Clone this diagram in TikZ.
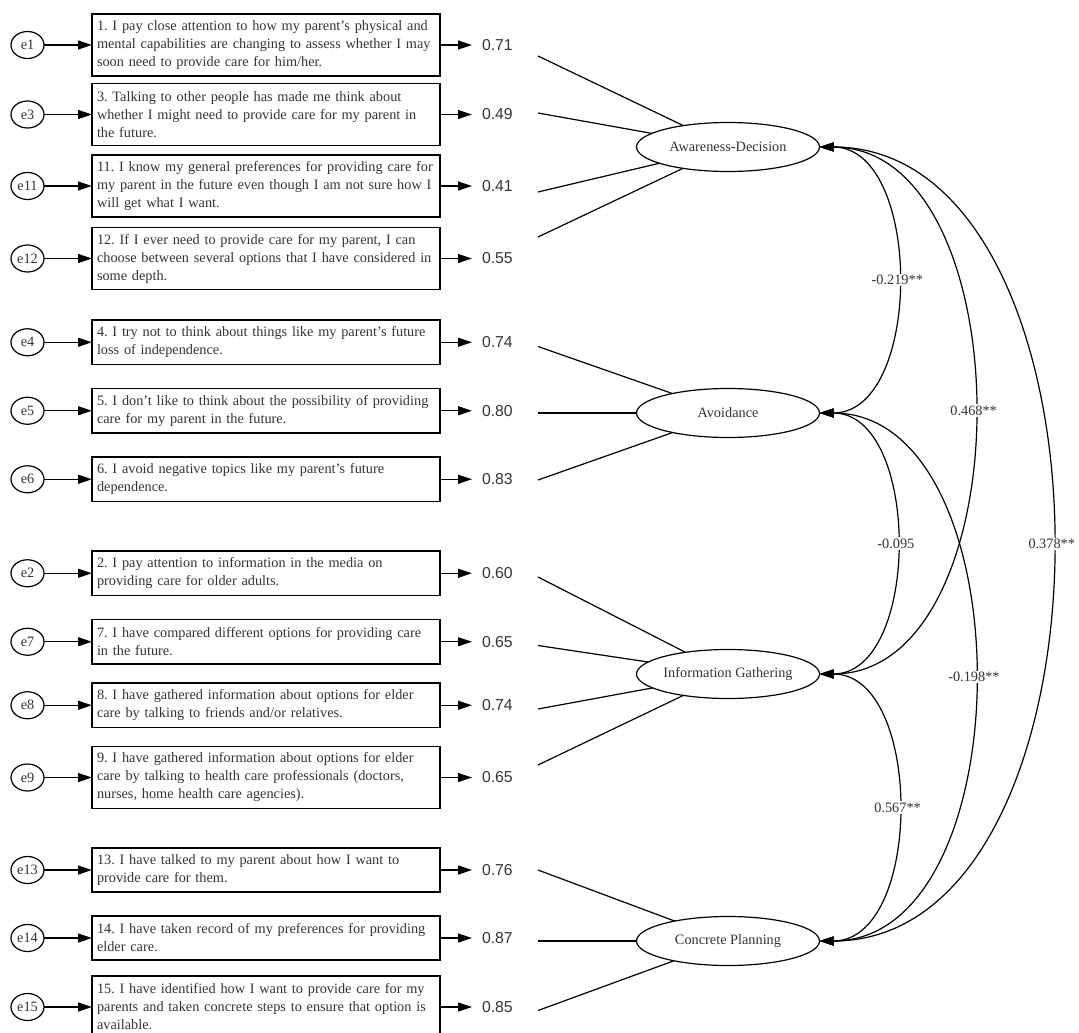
\documentclass[tikz,border=0pt]{standalone}
\usepackage{fontspec}
\setmainfont{Liberation Serif}
\newfontfamily\valfont{Liberation Sans}
\usetikzlibrary{arrows.meta,positioning,shapes.geometric}
\frenchspacing
\hyphenpenalty=10000
\exhyphenpenalty=10000

\tikzset{
  every node/.style={font=\fontsize{14.3}{18}\selectfont, text=black!80},
  itembox/.style={draw, line width=1.3pt, anchor=north west, text width=338pt,
    align=left, inner xsep=5pt, inner ysep=3pt, outer sep=0pt},
  errnode/.style={draw, ellipse, line width=1.2pt, minimum width=33pt,
    minimum height=27pt, inner sep=0pt, outer sep=0pt},
  factor/.style={draw, ellipse, line width=1.2pt, minimum width=183pt,
    minimum height=49pt, inner sep=0pt, outer sep=0pt},
  valnode/.style={inner xsep=10pt, inner ysep=2pt, outer sep=0pt,
    font=\valfont\fontsize{15.8}{18}\selectfont},
  arr/.style={line width=1.2pt, -{Triangle[length=14pt,width=9pt]}},
  load/.style={line width=1.2pt},
  cov/.style={line width=1.2pt, out=0, in=0,
    {Triangle[length=14pt,width=9pt]}-{Triangle[length=14pt,width=9pt]}},
  clab/.style={fill=white, inner sep=1.5pt}
}

\begin{document}
\begin{tikzpicture}[x=1pt, y=-1pt]
    \useasboundingbox (0,0) rectangle (1079,1033);

    % items, error terms and loadings
    \foreach \n/\ytop/\h/\val/\txt in {
        1/14/62/0.71/{1. I pay close attention to how my parent’s physical and\\ mental capabilities are changing to assess whether I may\\ soon need to provide care for him/her.},
        3/83.5/62/0.49/{3. Talking to other people has made me think about\\ whether I might need to provide care for my parent in\\ the future.},
        11/155/62/0.41/{11. I know my general preferences for providing care for\\ my parent in the future even though I am not sure how I\\ will get what I want.},
        12/227.5/62/0.55/{12. If I ever need to provide care for my parent, I can\\ choose between several options that I have considered in\\ some depth.},
        4/320/44.5/0.74/{4. I try not to think about things like my parent’s future\\ loss of independence.},
        5/388.5/44.5/0.80/{5. I don’t like to think about the possibility of providing\\ care for my parent in the future.},
        6/457/44.5/0.83/{6. I avoid negative topics like my parent’s future\\ dependence.},
        2/551/44.5/0.60/{2. I pay attention to information in the media on\\ providing care for older adults.},
        7/619.5/44.5/0.65/{7. I have compared different options for providing care\\ in the future.},
        8/683/44.5/0.74/{8. I have gathered information about options for elder\\ care by talking to friends and/or relatives.},
        9/746.5/62/0.65/{9. I have gathered information about options for elder\\ care by talking to health care professionals (doctors,\\ nurses, home health care agencies).},
        13/848/44/0.76/{13. I have talked to my parent about how I want to\\ provide care for them.},
        14/916/44/0.87/{14. I have taken record of my preferences for providing\\ elder care.},
        15/976/62/0.85/{15. I have identified how I want to provide care for my\\ parents and taken concrete steps to ensure that option is\\ available.}} {
        \node[itembox, minimum height=\h pt] (b\n) at (92,\ytop) {\txt};
        \node[errnode, left=48pt of b\n] (e\n) {e\n};
        \node[valnode, right=32pt of b\n] (v\n) {\val};
        \draw[arr] (e\n) -- (b\n);
        \draw[arr] (b\n) -- (v\n);
    }

    % latent factors
    \node[factor] (AD) at (728,147) {Awareness-Decision};
    \node[factor] (AV) at (728,413) {Avoidance};
    \node[factor] (IG) at (728,674) {Information Gathering};
    \node[factor] (CP) at (728,941) {Concrete Planning};

    \foreach \i/\y/\f in {1/56/AD, 2/113/AD, 3/192/AD, 4/237/AD,
                          5/346.5/AV, 6/413/AV, 7/480/AV,
                          8/577/IG, 9/645.5/IG, 10/709/IG, 11/765/IG,
                          12/870/CP, 13/941/CP, 14/1010.5/CP} {
        \coordinate (s\i) at (538,\y);
        \draw[load] (s\i) -- (\f);
    }

    % correlations
    \draw[cov] (AD.east) to node[clab] {-0.219**} (AV.east);
    \draw[cov] (AD.east) to node[clab] {0.468**} (IG.east);
    \draw[cov] (AD.east) to node[clab] {0.378**} (CP.east);
    \draw[cov] (AV.east) to node[clab] {-0.095} (IG.east);
    \draw[cov] (AV.east) to node[clab] {-0.198**} (CP.east);
    \draw[cov] (IG.east) to node[clab] {0.567**} (CP.east);
\end{tikzpicture}
\end{document}
